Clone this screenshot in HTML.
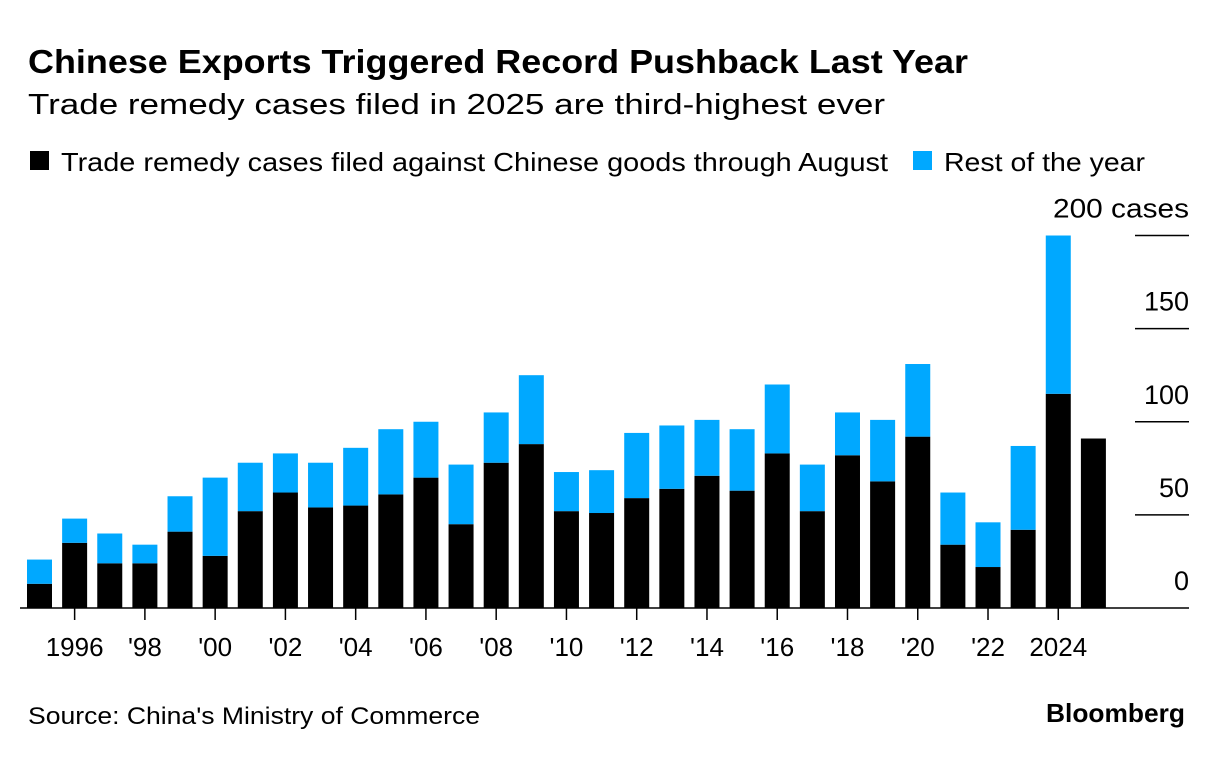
<!DOCTYPE html>
<html><head><meta charset="utf-8"><style>
body{margin:0;background:#fff;font-family:"Liberation Sans",sans-serif;}
svg text{font-family:"Liberation Sans",sans-serif;}
</style></head><body>
<svg width="1223" height="756">
<text x="28" y="73" font-size="33" font-weight="bold" fill="#000" textLength="940" lengthAdjust="spacingAndGlyphs">Chinese Exports Triggered Record Pushback Last Year</text>
<text x="28" y="114" font-size="29" fill="#000" textLength="857" lengthAdjust="spacingAndGlyphs">Trade remedy cases filed in 2025 are third-highest ever</text>
<rect x="30" y="151" width="19" height="19" fill="#000"/>
<text x="61" y="171" font-size="26" textLength="827" lengthAdjust="spacingAndGlyphs">Trade remedy cases filed against Chinese goods through August</text>
<rect x="913" y="151" width="19" height="19" fill="#00a8ff"/>
<text x="944" y="171" font-size="26" textLength="201" lengthAdjust="spacingAndGlyphs">Rest of the year</text>
<g id="grid"></g><g id="bars"></g><g id="xaxis"></g>
<text x="28" y="724" font-size="24" textLength="452" lengthAdjust="spacingAndGlyphs">Source: China's Ministry of Commerce</text>
<text x="1046" y="722" font-size="26" font-weight="bold" textLength="139" lengthAdjust="spacingAndGlyphs">Bloomberg</text>
</svg>
<script>
const years=[1995,1996,1997,1998,1999,2000,2001,2002,2003,2004,2005,2006,2007,2008,2009,2010,2011,2012,2013,2014,2015,2016,2017,2018,2019,2020,2021,2022,2023,2024,2025];
const august=[13,35,24,24,41,28,52,62,54,55,61,70,45,78,88,52,51,59,64,71,63,83,52,82,68,92,34,22,42,115,91];
const rest=[13,13,16,10,19,42,26,21,24,31,35,30,32,27,37,21,23,35,34,30,33,37,25,23,33,39,28,24,45,85,0];
const yTicks=[0,50,100,150,200];
const yTickLabels=["0","50","100","150","200 cases"];
const xLabelYears=[1996,1998,2000,2002,2004,2006,2008,2010,2012,2014,2016,2018,2020,2022,2024];
const xLabels=["1996","'98","'00","'02","'04","'06","'08","'10","'12","'14","'16","'18","'20","'22","2024"];
const NS="http://www.w3.org/2000/svg";
const y0=608,y200=235.5;
const y=v=>y0-(y0-y200)*v/200;
const step=35.13,bw=25,x0=27;
const x=yr=>x0+(yr-years[0])*step;
function mk(t,a,p){const e=document.createElementNS(NS,t);for(const k in a)e.setAttribute(k,a[k]);p.appendChild(e);return e;}
const grid=document.getElementById('grid'),bars=document.getElementById('bars'),xa=document.getElementById('xaxis');
yTicks.forEach((v,i)=>{
 if(v>0){const l=mk('line',{x1:1135,x2:1189,y1:y(v),y2:y(v),stroke:'#000','stroke-width':1.5},grid);
 
 }
 const t=mk('text',{x:1189,y:y(v)-18,'font-size':27,'text-anchor':'end'},grid);t.textContent=yTickLabels[i];
 if(v===200){t.setAttribute('textLength','136');t.setAttribute('lengthAdjust','spacingAndGlyphs');}
 
 
});
years.forEach((yr,i)=>{
 const b=mk('rect',{x:x(yr),y:y(august[i]),width:bw,height:y0-y(august[i]),fill:'#000'},bars);
 
 
 if(rest[i]>0){const r=mk('rect',{x:x(yr),y:y(august[i]+rest[i]),width:bw,height:y(august[i])-y(august[i]+rest[i]),fill:'#00a8ff'},bars);
 
 }
});
const base=mk('line',{x1:20,x2:1189,y1:y0,y2:y0,stroke:'#000','stroke-width':1.5},xa);


xLabelYears.forEach((yr,i)=>{
 const cx=x(yr)+bw/2;
 const tk=mk('line',{x1:cx,x2:cx,y1:y0,y2:y0+12,stroke:'#000','stroke-width':1.5},xa);
 
 
 const t=mk('text',{x:cx,y:656,'font-size':26,'text-anchor':'middle'},xa);t.textContent=xLabels[i];
 
 
});
</script>
</body></html>
